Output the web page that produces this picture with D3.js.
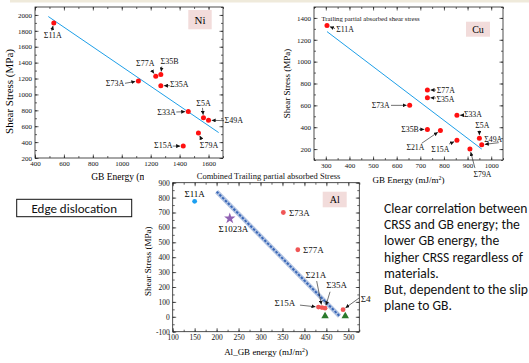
<!DOCTYPE html>
<html>
<head>
<meta charset="utf-8">
<script src="https://cdn.jsdelivr.net/npm/d3@7"></script>
<style>
  body { margin: 0; background: #fff; }
  svg { display: block; }
  .serif { font-family: "Liberation Serif", "Times New Roman", serif; }
  .sans { font-family: Carlito, Lato, "Open Sans", sans-serif; }
</style>
</head>
<body>
<div id="chart"></div>
<script>
// ---- Ni ----
const niLabels = ['Σ11A', 'Σ77A', 'Σ35B', 'Σ35A', 'Σ73A', 'Σ33A', 'Σ5A', 'Σ49A', 'Σ79A', 'Σ15A'];
const niEnergy = [530, 1235, 1270, 1270, 1115, 1460, 1565, 1600, 1530, 1425];
const niStress = [1900, 1230, 1250, 1110, 1170, 785, 705, 675, 515, 350];
const niFitX = [492, 1670];
const niFitY = [1980, 520];

// ---- Cu ----
const cuLabels = ['Σ11A', 'Σ77A', 'Σ35A', 'Σ73A', 'Σ33A', 'Σ35B', 'Σ21A', 'Σ15A', 'Σ79A', 'Σ5A', 'Σ49A'];
const cuEnergy = [305, 730, 730, 655, 855, 730, 785, 855, 910, 950, 960];
const cuStress = [1330, 740, 670, 600, 510, 380, 370, 280, 200, 300, 240];
const cuFitX = [305, 960];
const cuFitY = [1275, 200];

// ---- Al ----
const alLabels = ['Σ73A', 'Σ77A', 'Σ15A', 'Σ21A', 'Σ35A', 'Σ49A'];
const alEnergy = [352, 385, 432, 440, 447, 488];
const alStress = [700, 450, 65, 62, 58, 48];
const al11Energy = [150], al11Stress = [775];
const al1023Energy = [230], al1023Stress = [660];
const alTriEnergy = [447, 493], alTriStress = [5, 5];
const alFitX = [200, 480];
const alFitY = [840, 5];

const textLines = [
  'Clear correlation between',
  'CRSS and GB energy; the',
  'lower GB energy, the',
  'higher CRSS regardless of',
  'materials.',
  'But, dependent to the slip',
  'plane to GB.'
];

// label placement (pixel offsets from the point: text x, text baseline, arrow tail x, y)
const niAnno = [[-1, 15.5, -2, 8], [-10.5, -10, -4, -6], [8.7, -10.6, 1, -8], [18.4, 1.5, 9, 0],
  [-23.4, 5, -13.4, 2.4], [-21.8, 3, -12, 0.5], [0, -12, -1, -10], [25.3, 2.7, 15.5, 0.4],
  [10.6, 15, 3.3, 7], [-19.9, 2.4, -10.5, 0]];
const cuAnno = [[18, 6, 8, 3], [18.4, 2.5, 8.6, 0], [18, 4, 8.5, 0.3], [-29, 2.6, -18.7, 0],
  [16, 2.3, 6.4, 0], [-17.4, 2.6, -8.4, 0], [-25, 19.5, -18.7, 12.8], [-16.6, 11.2, -7.9, 3.7],
  [12.6, 28, 5, 19], [3, -10, 0, -7.5], [11.5, -3.2, 17, -2]];
const alAnno = [[16, 3.5], [15.5, 3.2], [-33.7, -1.6, -18.5, -2], [-6, -30, -5.3, -26.5],
  [11.6, -20.6, 5, -16.4], [28, -8, 16, -11.6]];

const W = 529, H = 363;
const svg = d3.select('#chart').append('svg').attr('width', W).attr('height', H);
const defs = svg.append('defs');

defs.append('marker')
  .attr('id', 'arr').attr('viewBox', '0 0 6 6').attr('refX', 6).attr('refY', 3)
  .attr('markerWidth', 4).attr('markerHeight', 4).attr('markerUnits', 'userSpaceOnUse')
  .attr('orient', 'auto')
  .append('path').attr('d', 'M0,0L6,3L0,6Z').attr('fill', '#111');

svg.append('rect').attr('x', 10).attr('y', 0).attr('width', W - 10).attr('height', 2.5).attr('fill', '#efeadb');

function range(a, b, s) { return d3.range(a, b + s / 2, s); }

function panel(g, c) {
  const x = d3.scaleLinear().domain(c.xDom).range([c.left, c.right]);
  const y = d3.scaleLinear().domain(c.yDom).range([c.bottom, c.top]);
  const fmt = d => String(d);
  const addAxis = (axis, tr, vals, size, labels) => {
    const a = g.append('g').attr('class', 'serif').attr('transform', tr)
      .call(axis.tickValues(vals).tickSize(-size).tickPadding(c.pad).tickFormat(labels ? fmt : ''));
    a.select('.domain').remove();
    a.selectAll('line').attr('stroke', '#222').attr('stroke-width', 0.7);
    a.selectAll('text').attr('font-size', c.tick).attr('fill', '#111');
  };
  const xMinor = range(c.xDom[0], c.xDom[1], c.xMinor);
  const yMinor = range(c.yDom[0], c.yDom[1], c.yMinor);
  addAxis(d3.axisBottom(x), `translate(0,${c.bottom})`, c.xMajor, 3.5, true);
  addAxis(d3.axisBottom(x), `translate(0,${c.bottom})`, xMinor, 2, false);
  addAxis(d3.axisTop(x), `translate(0,${c.top})`, c.xMajor, 3.5, false);
  addAxis(d3.axisTop(x), `translate(0,${c.top})`, xMinor, 2, false);
  addAxis(d3.axisLeft(y), `translate(${c.left},0)`, c.yMajor, 3.5, true);
  addAxis(d3.axisLeft(y), `translate(${c.left},0)`, yMinor, 2, false);
  addAxis(d3.axisRight(y), `translate(${c.right},0)`, c.yMajor, 3.5, false);
  addAxis(d3.axisRight(y), `translate(${c.right},0)`, yMinor, 2, false);
  g.append('rect').attr('x', c.left).attr('y', c.top)
    .attr('width', c.right - c.left).attr('height', c.bottom - c.top)
    .attr('fill', 'none').attr('stroke', '#222').attr('stroke-width', 0.8);
  // titles
  const xt = g.append('text').attr('class', 'serif').attr('font-size', c.titleSize)
    .attr('text-anchor', 'middle').attr('x', (c.left + c.right) / 2 + (c.xtDx || 0)).attr('y', c.xtY)
    .html(c.xTitle + ' (mJ/m<tspan dy="-3" font-size="' + (c.titleSize * 0.65) + '">2</tspan><tspan dy="3">)</tspan>');
  if (c.xtClip) xt.attr('clip-path', c.xtClip);
  g.append('text').attr('class', 'serif').attr('font-size', c.yTitleSize || c.titleSize)
    .attr('text-anchor', 'middle')
    .attr('transform', `translate(${c.ytX},${(c.top + c.bottom) / 2 + (c.ytDy || 0)}) rotate(-90)`)
    .text('Shear Stress (MPa)');
  // element box
  const bx = c.box;
  g.append('rect').attr('x', bx[0]).attr('y', bx[1]).attr('width', bx[2]).attr('height', bx[3]).attr('fill', '#f2dcdb');
  g.append('text').attr('class', 'serif').attr('font-size', bx[5]).attr('text-anchor', 'middle')
    .attr('x', bx[0] + bx[2] / 2).attr('y', bx[1] + bx[3] / 2 + bx[5] * 0.35).text(bx[4]);
  return { x, y };
}

function labels(g, x, y, xs, ys, names, anno, r, fs) {
  names.forEach((n, i) => {
    const px = x(xs[i]), py = y(ys[i]), a = anno[i];
    g.append('text').attr('class', 'serif').attr('font-size', fs).attr('text-anchor', 'middle')
      .attr('x', px + a[0]).attr('y', py + a[1]).attr('fill', '#111').text(n);
    if (a.length > 2) {
      const dx = -a[2], dy = -a[3], len = Math.hypot(dx, dy), k = (len - r - 0.6) / len;
      g.append('line').attr('x1', px + a[2]).attr('y1', py + a[3])
        .attr('x2', px + a[2] + dx * k).attr('y2', py + a[3] + dy * k)
        .attr('stroke', '#111').attr('stroke-width', 0.6).attr('marker-end', 'url(#arr)');
    }
  });
}

// the Al picture is pasted over the Ni axis title, so only its left part shows
defs.append('clipPath').attr('id', 'niclip')
  .append('rect').attr('x', 0).attr('y', 160).attr('width', 144).attr('height', 40);

// ---------- Ni panel ----------
const gNi = svg.append('g');
const ni = panel(gNi, {
  left: 35, right: 223, top: 7, bottom: 158, xDom: [400, 1700], yDom: [200, 2100],
  xMajor: range(400, 1600, 200), xMinor: 100, yMajor: range(200, 2000, 200), yMinor: 100,
  tick: 7, pad: 3, titleSize: 9.5, yTitleSize: 11, xTitle: 'GB Energy', xtY: 180, ytX: 13, ytDy: 9,
  xtClip: 'url(#niclip)', box: [188.3, 10, 23.4, 19.3, 'Ni', 11]
});
gNi.append('line').attr('x1', ni.x(niFitX[0])).attr('y1', ni.y(niFitY[0]))
  .attr('x2', ni.x(niFitX[1])).attr('y2', ni.y(niFitY[1])).attr('stroke', '#1e9fe8').attr('stroke-width', 1);
gNi.selectAll('circle.p').data(niEnergy).enter().append('circle')
  .attr('cx', (d) => ni.x(d)).attr('cy', (d, i) => ni.y(niStress[i])).attr('r', 2.5).attr('fill', '#ff1010');
labels(gNi, ni.x, ni.y, niEnergy, niStress, niLabels, niAnno, 2.5, 8);

// ---------- Cu panel ----------
const gCu = svg.append('g');
const cu = panel(gCu, {
  left: 314, right: 503, top: 7, bottom: 160, xDom: [250, 1050], yDom: [100, 1500],
  xMajor: range(300, 1000, 100), xMinor: 50, yMajor: range(200, 1400, 200), yMinor: 100,
  tick: 7, pad: 3, titleSize: 9, xTitle: 'GB Energy', xtY: 183, ytX: 290, ytDy: 0,
  box: [466, 21.7, 24, 15, 'Cu', 10]
});
gCu.append('text').attr('class', 'serif').attr('font-size', 6.7).attr('x', 321.5).attr('y', 21)
  .attr('fill', '#111').text('Trailing partial absorbed shear stress');
gCu.append('line').attr('x1', cu.x(cuFitX[0])).attr('y1', cu.y(cuFitY[0]))
  .attr('x2', cu.x(cuFitX[1])).attr('y2', cu.y(cuFitY[1])).attr('stroke', '#1e9fe8').attr('stroke-width', 1);
gCu.selectAll('circle.p').data(cuEnergy).enter().append('circle')
  .attr('cx', (d) => cu.x(d)).attr('cy', (d, i) => cu.y(cuStress[i])).attr('r', 2.5).attr('fill', '#ff1010');
labels(gCu, cu.x, cu.y, cuEnergy, cuStress, cuLabels, cuAnno, 2.5, 7.8);

// ---------- Al panel (pasted over the others) ----------
defs.append('clipPath').attr('id', 'alclip')
  .append('rect').attr('x', 144).attr('y', 170).attr('width', 227).attr('height', 193);
const gAl = svg.append('g').attr('clip-path', 'url(#alclip)');
gAl.append('rect').attr('x', 144).attr('y', 170).attr('width', 227).attr('height', 193).attr('fill', '#fff');
const al = panel(gAl, {
  left: 172.7, right: 359.3, top: 182.7, bottom: 331.7, xDom: [100, 525], yDom: [-100, 900],
  xMajor: range(100, 500, 50), xMinor: 25, yMajor: range(-100, 900, 100), yMinor: 50,
  tick: 7.5, pad: 3, titleSize: 9, xTitle: 'Al_GB energy', xtY: 355, xtDx: 0, ytX: 151, ytDy: 4,
  box: [322.7, 191.7, 24, 15.6, 'Al', 10]
});
gAl.append('text').attr('class', 'serif').attr('font-size', 8.5).attr('text-anchor', 'middle')
  .attr('x', 268.5).attr('y', 178.5).attr('fill', '#111').text('Combined Trailing partial absorbed Stress');
gAl.append('line').attr('x1', al.x(alFitX[0])).attr('y1', al.y(alFitY[0]))
  .attr('x2', al.x(alFitX[1])).attr('y2', al.y(alFitY[1])).attr('stroke', '#b3c4e2').attr('stroke-width', 4.5);
gAl.append('line').attr('x1', al.x(alFitX[0])).attr('y1', al.y(alFitY[0]))
  .attr('x2', al.x(alFitX[1])).attr('y2', al.y(alFitY[1])).attr('stroke', '#3a68b8')
  .attr('stroke-width', 2).attr('stroke-dasharray', '2.5,1.5');
gAl.selectAll('circle.b').data(al11Energy).enter().append('circle')
  .attr('cx', (d) => al.x(d)).attr('cy', (d, i) => al.y(al11Stress[i])).attr('r', 2.4).attr('fill', '#1c9ff0');
gAl.selectAll('path.s').data(al1023Energy).enter().append('path')
  .attr('d', d3.symbol(d3.symbolStar, 40))
  .attr('transform', (d, i) => `translate(${al.x(d)},${al.y(al1023Stress[i])})`).attr('fill', '#9061b3');
gAl.selectAll('path.t').data(alTriEnergy).enter().append('path')
  .attr('d', d3.symbol(d3.symbolTriangle, 24))
  .attr('transform', (d, i) => `translate(${al.x(d)},${al.y(alTriStress[i])})`).attr('fill', '#2b7a2b');
gAl.selectAll('circle.p').data(alEnergy).enter().append('circle')
  .attr('cx', (d) => al.x(d)).attr('cy', (d, i) => al.y(alStress[i])).attr('r', 2.4).attr('fill', '#f05555');
gAl.append('text').attr('class', 'serif').attr('font-size', 9).attr('text-anchor', 'middle')
  .attr('x', al.x(al11Energy[0])).attr('y', al.y(al11Stress[0]) - 4.5).text('Σ11A');
gAl.append('text').attr('class', 'serif').attr('font-size', 9).attr('text-anchor', 'middle')
  .attr('x', al.x(al1023Energy[0]) + 3.5).attr('y', al.y(al1023Stress[0]) + 13.5).text('Σ1023A');
labels(gAl, al.x, al.y, alEnergy, alStress, alLabels, alAnno, 2.4, 9);

// ---------- slide text ----------
svg.append('rect').attr('x', 16.7).attr('y', 199.3).attr('width', 115).attr('height', 17.4)
  .attr('fill', '#fff').attr('stroke', '#111').attr('stroke-width', 1);
svg.append('text').attr('class', 'sans').attr('font-size', 13).attr('text-anchor', 'middle')
  .attr('x', 74.2).attr('y', 212.5).attr('fill', '#111').text('Edge dislocation');

svg.append('g').attr('class', 'sans').selectAll('text').data(textLines).enter().append('text')
  .attr('x', 384).attr('y', (d, i) => 213 + i * 16.2).attr('font-size', 13.6).attr('fill', '#111')
  .text(d => d);
</script>
</body>
</html>
